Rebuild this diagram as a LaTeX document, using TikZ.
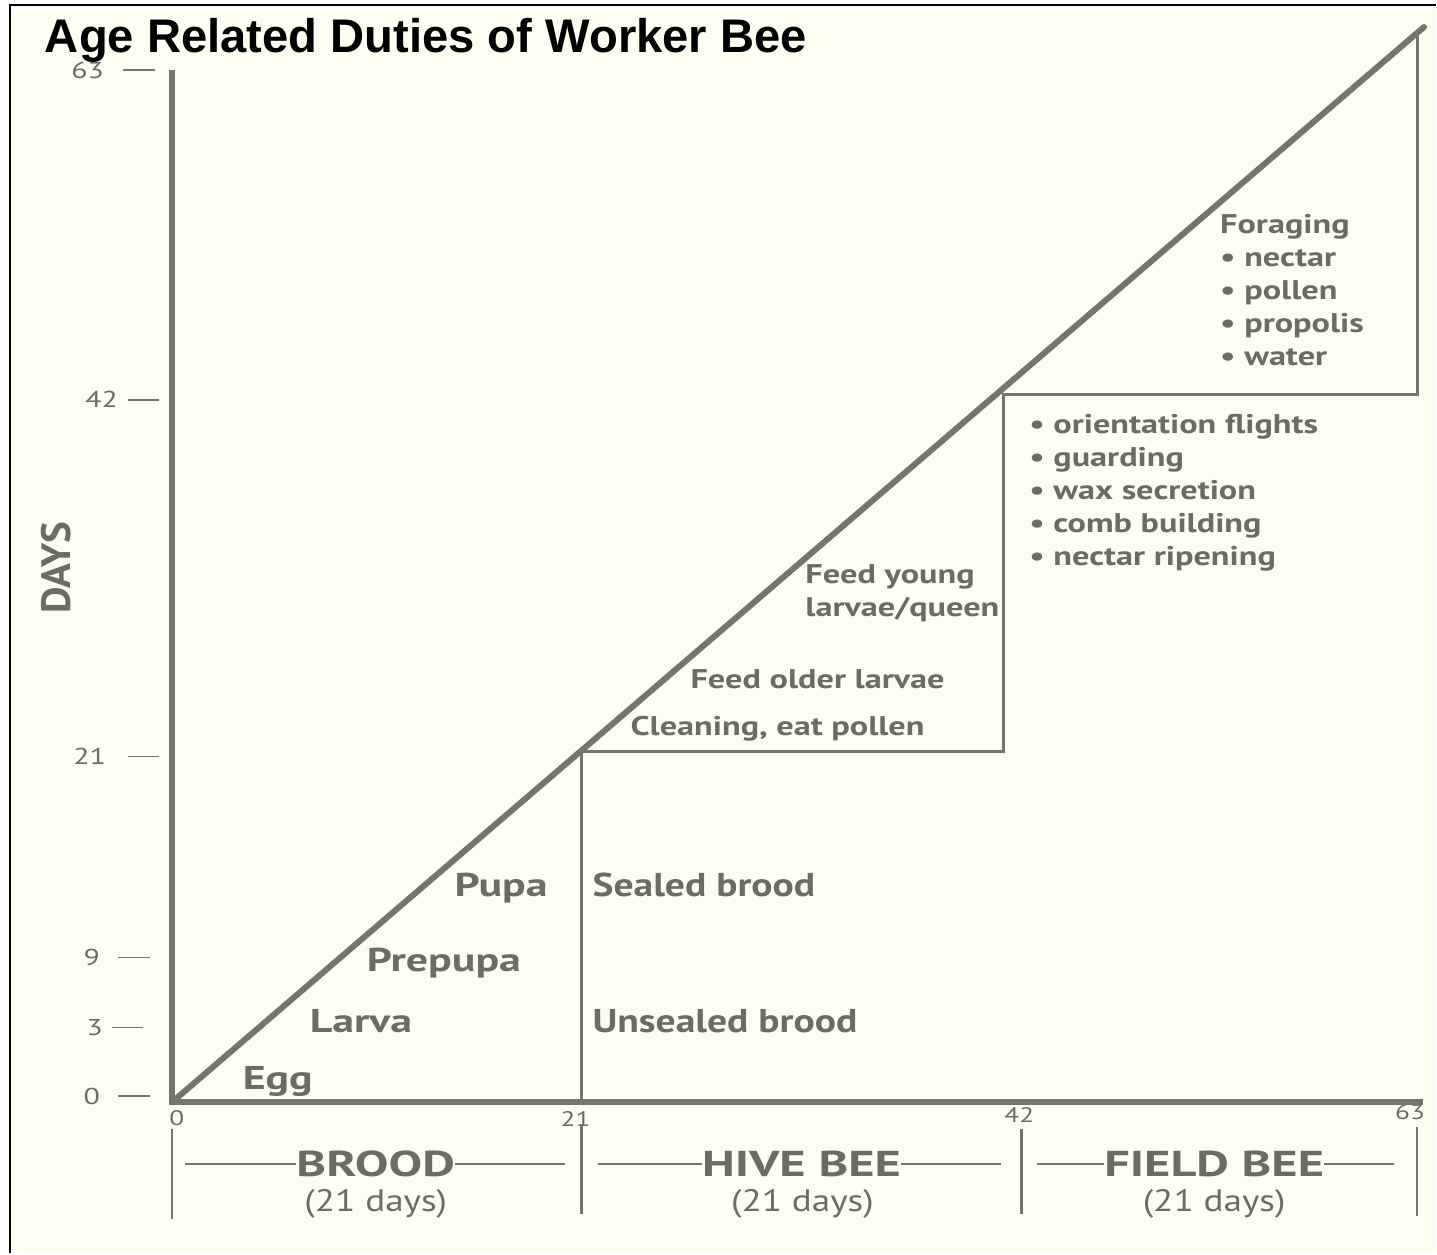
\documentclass[tikz,border=0pt]{standalone}
\usepackage{fontspec}
\setmainfont{PT Sans}
\newfontfamily\titlefont{Liberation Sans}
\newfontfamily\gStage[FakeStretch=1.33]{PT Sans}
\newfontfamily\gBrood[FakeStretch=1.2]{PT Sans}
\newfontfamily\gDuty[FakeStretch=1.27]{PT Sans}
\newfontfamily\gGroup[FakeStretch=1.4]{PT Sans}
\newfontfamily\gNum[FakeStretch=1.3]{PT Sans}
\definecolor{cream}{HTML}{FEFDF1}
\definecolor{ink}{HTML}{75766A}
\definecolor{txt}{HTML}{6C6D61}
\newcommand{\pxfont}[1]{\fontsize{#1}{#1}\selectfont}
\begin{document}
\begin{tikzpicture}[x=0.5pt,y=-0.5pt,
  every node/.style={inner sep=0pt,outer sep=0pt},
  axisline/.style={draw=ink,line width=3pt},
  stepline/.style={draw=ink,line width=1.5pt},
  tickline/.style={draw=ink,line width=0.8pt},
  stage/.style={text=txt,font=\gStage\bfseries\pxfont{16.5},anchor=base west},
  brood/.style={text=txt,font=\gBrood\bfseries\pxfont{16.5},anchor=base west},
  duty/.style={text=txt,font=\gDuty\bfseries\pxfont{13.5},anchor=base west},
  ylab/.style={text=txt,font=\gNum\pxfont{11.5},anchor=east},
  xlab/.style={text=txt,font=\gNum\pxfont{10.5}},
  grp/.style={text=txt,font=\gGroup\bfseries\pxfont{18},anchor=base},
  dur/.style={text=txt,font=\gBrood\pxfont{15.5}},
  barline/.style={draw=ink,line width=1.2pt}
]
% page and frame
\fill[white] (0,0) rectangle (1437,1254);
\fill[cream] (10,5) rectangle (1437,1254);
\draw[black,line width=1pt] (10,1254) -- (10,5) -- (1437,5);
\useasboundingbox (0,0) rectangle (1437,1254);

% key coordinates
\coordinate (O) at (172,1103);
\coordinate (Ytop) at (172,70);
\coordinate (Xend) at (1424,1103);
\coordinate (D) at (1425,27);
\coordinate (a21) at (582,1103);
\coordinate (b21) at (582,752);
\coordinate (c42) at (1004,752);
\coordinate (d42) at (1004,395);
\coordinate (e63) at (1418,395);
\coordinate (f63) at (1418,34);

% x axis numbers (under the axis line)
\node[xlab] (x0) at (177,1119) {0};
\node[xlab] (x21) at (576,1120) {21};
\node[xlab] (x42) at (1020,1116) {42};
\node[xlab] (x63) at (1411,1113) {63};

% step lines
\draw[stepline] (a21) -- (b21) -- (c42) -- (d42) -- (e63) -- (f63);
% axes and diagonal
\draw[axisline] (Ytop) -- (O) -- (Xend);
\draw[axisline,line cap=round] (O) -- (D);

% y ticks
\coordinate (t63a) at (123,70);  \coordinate (t63b) at (155,70);
\coordinate (t42a) at (128,400); \coordinate (t42b) at (159,400);
\coordinate (t21a) at (128,757); \coordinate (t21b) at (159,757);
\coordinate (t9a) at (118,958);  \coordinate (t9b) at (150,958);
\coordinate (t3a) at (112,1028); \coordinate (t3b) at (143,1028);
\coordinate (t0a) at (118,1097); \coordinate (t0b) at (150,1097);
\foreach \t in {63,42,21,9,3,0}{\draw[tickline] (t\t a) -- (t\t b);}
\node[ylab] (y63) at (104,70) {63};
\node[ylab] (y42) at (118,400) {42};
\node[ylab] (y21) at (106,757) {21};
\node[ylab] (y9) at (100,958) {9};
\node[ylab] (y3) at (103,1028) {3};
\node[ylab] (y0) at (100,1097) {0};
\node[text=txt,font=\bfseries\pxfont{20.5},rotate=90] (days) at (56,568) {DAYS};

% title
\node[font=\titlefont\bfseries\pxfont{23.6},anchor=base west] (title) at (45,53) {Age Related Duties of Worker Bee};

% brood stages
\node[stage] (egg) at (243,1090) {Egg};
\node[stage] (larva) at (310,1033) {Larva};
\node[stage] (prepupa) at (367,972) {Prepupa};
\node[stage] (pupa) at (455,897) {Pupa};
\node[brood] (sealed) at (593,897) {Sealed brood};
\node[brood] (unsealed) at (593,1033) {Unsealed brood};

% hive bee duties
\node[duty] (clean) at (631,736) {Cleaning, eat pollen};
\node[duty] (older) at (691,689) {Feed older larvae};
\node[duty] (young1) at (806,584) {Feed young};
\node[duty] (young2) at (806,617) {larvae/queen};

\node[duty] (o1) at (1030,434) {• orientation flights};
\node[duty] (o2) at (1030,467) {• guarding};
\node[duty] (o3) at (1030,500) {• wax secretion};
\node[duty] (o4) at (1030,533) {• comb building};
\node[duty] (o5) at (1030,566) {• nectar ripening};

% field bee duties
\node[duty] (for) at (1221,234) {Foraging};
\node[duty] (f1) at (1221,267) {• nectar};
\node[duty] (f2) at (1221,300) {• pollen};
\node[duty] (f3) at (1221,333) {• propolis};
\node[duty] (f4) at (1221,366) {• water};

% period brackets
\coordinate (p1t) at (172,1130); \coordinate (p1b) at (172,1220);
\coordinate (p2t) at (582,1125); \coordinate (p2b) at (582,1215);
\coordinate (p3t) at (1022,1130); \coordinate (p3b) at (1022,1215);
\coordinate (p4t) at (1418,1128); \coordinate (p4b) at (1418,1217);
\foreach \p in {1,2,3,4}{\draw[barline] (p\p t) -- (p\p b);}

\node[grp] (brood) at (376,1177) {BROOD};
\node[grp] (hive) at (802,1177) {HIVE BEE};
\node[grp] (field) at (1215,1177) {FIELD BEE};
\node[dur] (d1) at (376,1205) {(21 days)};
\node[dur] (d2) at (803,1205) {(21 days)};
\node[dur] (d3) at (1215,1205) {(21 days)};

\coordinate (l1a) at (185,1165);  \coordinate (l1b) at (565,1165);
\coordinate (l2a) at (598,1165);  \coordinate (l2b) at (1002,1165);
\coordinate (l3a) at (1038,1165); \coordinate (l3b) at (1395,1165);
\draw[barline,line width=1pt] (l1a) -- (l1a -| brood.west);
\draw[barline,line width=1pt] (l1b) -- (l1b -| brood.east);
\draw[barline,line width=1pt] (l2a) -- (l2a -| hive.west);
\draw[barline,line width=1pt] (l2b) -- (l2b -| hive.east);
\draw[barline,line width=1pt] (l3a) -- (l3a -| field.west);
\draw[barline,line width=1pt] (l3b) -- (l3b -| field.east);
\end{tikzpicture}
\end{document}
